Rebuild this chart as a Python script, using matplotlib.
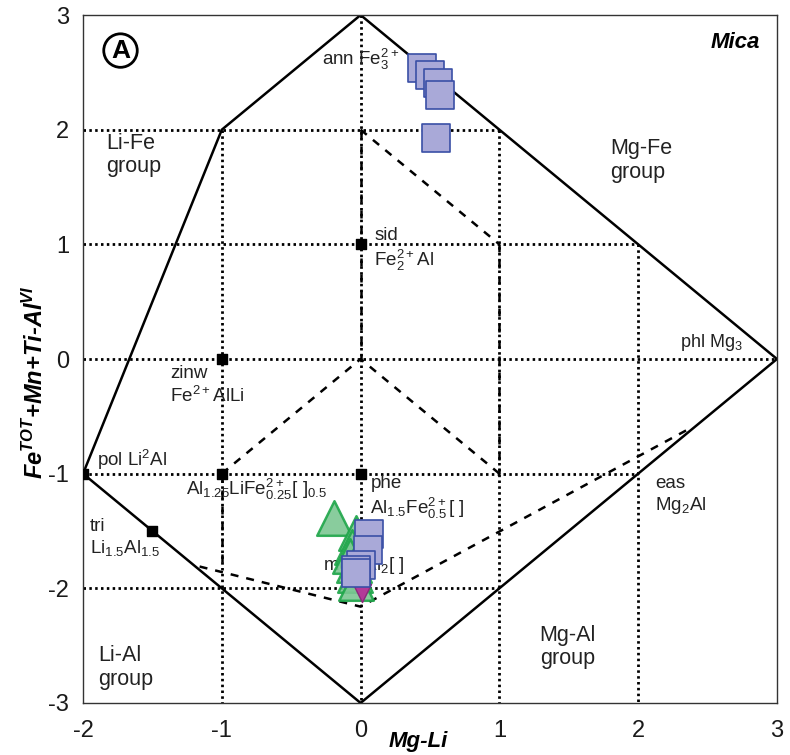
import matplotlib
matplotlib.use("Agg")
import matplotlib.pyplot as plt

plt.rcParams['font.family'] = ['Liberation Sans', 'DejaVu Sans']
plt.rcParams['axes.unicode_minus'] = False

# sample data (Mg-Li, Fe+Mn+Ti-AlVI)
sq_x = [0.44, 0.50, 0.56, 0.57, 0.54, 0.06, 0.05, 0.00, -0.03, -0.03]
sq_y = [2.54, 2.48, 2.41, 2.30, 1.93, -1.53, -1.67, -1.80, -1.84, -1.87]
tri_x = [-0.19, -0.03, -0.06, -0.08, -0.05, -0.04, -0.03]
tri_y = [-1.39, -1.52, -1.64, -1.72, -1.80, -1.88, -1.95]
inv_x = [0.01]
inv_y = [-2.04]

# end-members (black squares)
em_x = [0, -1, -2, -1, 0, -1.5]
em_y = [1, 0, -1, -1, -1, -1.5]

# diagram frame
outer_x = [-2, -1, 0, 3, 0, -2]
outer_y = [-1, 2, 3, 0, -3, -1]
# dotted grid segments: (x0, x1, y0, y1)
dotted = [(-2, 1, 2, 2), (-2, 2, 1, 1), (-2, 3, 0, 0), (-2, 2, -1, -1), (-2, 1, -2, -2),
          (-1, -1, 2, -3), (0, 0, 3, -3), (1, 1, 2, -3), (2, 2, 1, -3)]
dashed = [([0, 1], [2, 1]), ([-1, 0, 1], [-1, 0, -1]),
          ([-1.16, 0, 2.35], [-1.81, -2.16, -0.62]),
          ([0, 0], [2, 0]), ([1, 1], [1, -1]), ([-1, -1], [-1, -1.8])]

fig = plt.figure(figsize=(7.9, 7.55), dpi=100)
ax = fig.add_axes([0.1051, 0.0689, 0.8784, 0.9112])

for x0, x1, y0, y1 in dotted:
    ax.plot([x0, x1], [y0, y1], color='black', lw=2.0, ls=(0, (0.9, 1.2)), zorder=1)
for xs, ys in dashed:
    ax.plot(xs, ys, color='black', lw=1.8, ls=(0, (3.2, 3.2)), zorder=1)
ax.plot(outer_x, outer_y, color='black', lw=1.8, zorder=2)
ax.scatter(em_x, em_y, marker='s', s=60, color='black', zorder=3)

txt = dict(fontsize=13.5, color='#222222', va='center', ha='left', linespacing=1.2, zorder=2)
grp = dict(fontsize=15.5, color='#222222', va='center', ha='left', linespacing=1.15, zorder=2)
R = r'\mathregular'

ax.text(-0.28, 2.61, r"ann Fe$%s{_3^{2+}}$" % R, **txt)
ax.text(0.10, 0.95, "sid\n" + r"Fe$%s{_2^{2+}}$Al" % R, **txt)
ax.text(2.30, 0.14, r"phl Mg$%s{_3}$" % R, fontsize=13, color='#222222', va='center', ha='left')
ax.text(-1.37, -0.23, "zinw\n" + r"Fe$%s{^{2+}}$AlLi" % R, **txt)
ax.text(-1.90, -0.88, r"pol Li$%s{^2}$Al" % R, **txt)
ax.text(-1.26, -1.14, r"Al$%s{_{1.25}}$LiFe$%s{^{2+}_{0.25}}$[ ]$%s{_{0.5}}$" % (R, R, R), **txt)
ax.text(0.07, -1.21, "phe\n" + r"Al$%s{_{1.5}}$Fe$%s{^{2+}_{0.5}}$[ ]" % (R, R), **txt)
ax.text(2.12, -1.19, "eas\n" + r"Mg$%s{_2}$Al" % R, **txt)
ax.text(-1.95, -1.56, "tri\n" + r"Li$%s{_{1.5}}$Al$%s{_{1.5}}$" % (R, R), **txt)
ax.text(-0.27, -1.80, r"mus Al$%s{_2}$[ ]" % R, **txt)

ax.text(-1.83, 1.78, "Li-Fe\ngroup", **grp)
ax.text(1.80, 1.73, "Mg-Fe\ngroup", **grp)
ax.text(1.29, -2.51, "Mg-Al\ngroup", **grp)
ax.text(-1.89, -2.69, "Li-Al\ngroup", **grp)

ax.text(2.88, 2.76, "Mica", fontsize=16, fontweight='bold', style='italic', ha='right', va='center')
ax.text(-1.73, 2.69, "A", fontsize=19, fontweight='bold', ha='center', va='center',
        bbox=dict(boxstyle='circle,pad=0.18', fc='white', ec='black', lw=2.0))

ax.scatter(tri_x, tri_y, marker='^', s=620, facecolor='#7cc793', edgecolor='#1fa64a',
           lw=1.8, alpha=0.9, zorder=4)
ax.scatter(inv_x, inv_y, marker='v', s=170, facecolor='#b33a98', edgecolor='#8a2a7a',
           lw=1, zorder=4)
ax.scatter(sq_x, sq_y, marker='s', s=400, facecolor='#a9a9d8', edgecolor='#3a4fa6',
           lw=1.2, zorder=5)

ax.set_xlim(-2, 3)
ax.set_ylim(-3, 3)
ax.set_xticks([-2, -1, 0, 1, 2, 3])
ax.set_yticks([-3, -2, -1, 0, 1, 2, 3])
ax.tick_params(length=0, labelsize=17, colors='#1a1a1a')
ax.tick_params(axis='x', pad=12)
ax.tick_params(axis='y', pad=10)
for sp in ax.spines.values():
    sp.set_linewidth(1.0)
    sp.set_color('#333333')

fig.text(0.53, 1 - 742 / 755, "Mg-Li", fontsize=16, fontweight='bold', style='italic',
         ha='center', va='center')
fig.text(35 / 790, 1 - 382 / 755, r"Fe$\mathregular{^{TOT}}$+Mn+Ti-Al$\mathregular{^{VI}}$",
         fontsize=17, fontweight='bold', style='italic', rotation=90, ha='center', va='center')

plt.savefig("out.png", dpi=100)
